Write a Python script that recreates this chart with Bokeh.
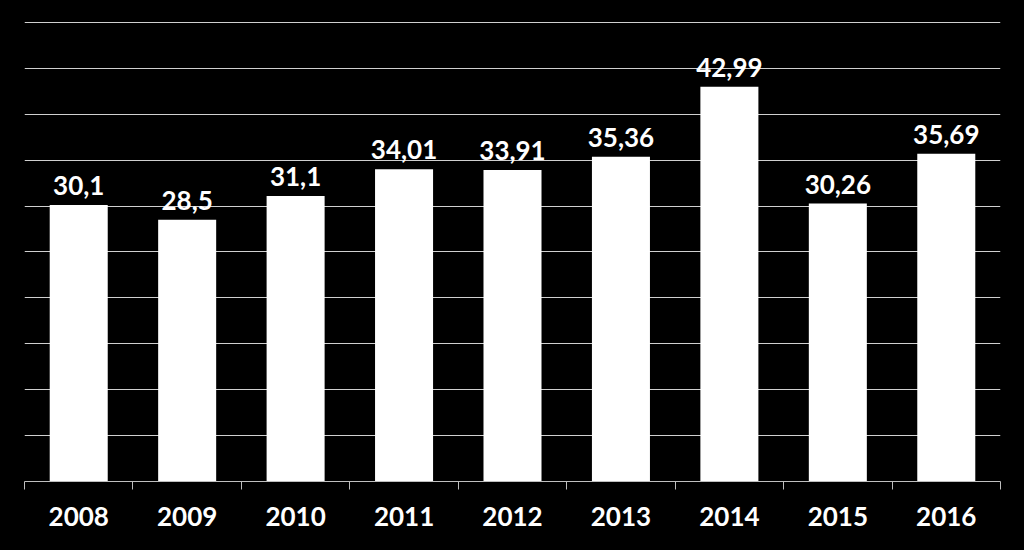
from bokeh.plotting import figure
from bokeh.models import ColumnDataSource, FixedTicker, Range1d, LabelSet
from bokeh.core.properties import value
from bokeh.embed import file_html
from bokeh.resources import INLINE

years = ["2008", "2009", "2010", "2011", "2012", "2013", "2014", "2015", "2016"]
values = [30.1, 28.5, 31.1, 34.01, 33.91, 35.36, 42.99, 30.26, 35.69]
value_labels = ["30,1", "28,5", "31,1", "34,01", "33,91", "35,36", "42,99", "30,26", "35,69"]

xs = [i + 0.5 for i in range(len(years))]
src = ColumnDataSource(dict(x=xs, top=values, lab=value_labels))

p = figure(width=1024, height=550, output_backend="svg", toolbar_location=None,
           x_range=Range1d(0, len(years)), y_range=Range1d(0, 50.2),
           background_fill_color="black", border_fill_color="black",
           min_border_left=24, min_border_right=24, min_border_top=20, min_border_bottom=69)
p.outline_line_color = None

p.vbar(x="x", top="top", width=0.535, bottom=0, source=src,
       fill_color="white", line_color=None)

labels = LabelSet(x="x", y="top", text="lab", source=src, text_align="center",
                  text_baseline="bottom", y_offset=10, text_color="white",
                  text_font=value("Lato"), text_font_style="bold",
                  text_font_size=value("26px"))
p.add_layout(labels)

p.yaxis.visible = False
p.ygrid.ticker = FixedTicker(ticks=list(range(0, 51, 5)))
p.ygrid.grid_line_color = "#d0d0d0"
p.ygrid.grid_line_width = 1
p.xgrid.visible = False

ax = p.xaxis[0]
ax.ticker = FixedTicker(ticks=xs, minor_ticks=list(range(0, len(years) + 1)))
ax.major_label_overrides = {x: y for x, y in zip(xs, years)}
ax.major_tick_line_color = None
ax.minor_tick_line_color = "#bfbfbf"
ax.minor_tick_out = 8
ax.minor_tick_in = 0
ax.axis_line_color = "#bfbfbf"
ax.axis_line_width = 1
ax.major_label_text_color = "white"
ax.major_label_text_font = "Lato"
ax.major_label_text_font_style = "bold"
ax.major_label_text_font_size = "26px"
ax.major_label_standoff = 17

html = file_html(p, INLINE)
html = html.replace("</head>", "<style>html,body{margin:0;padding:0;background:black;}</style></head>", 1)
open("out.html", "w").write(html)
